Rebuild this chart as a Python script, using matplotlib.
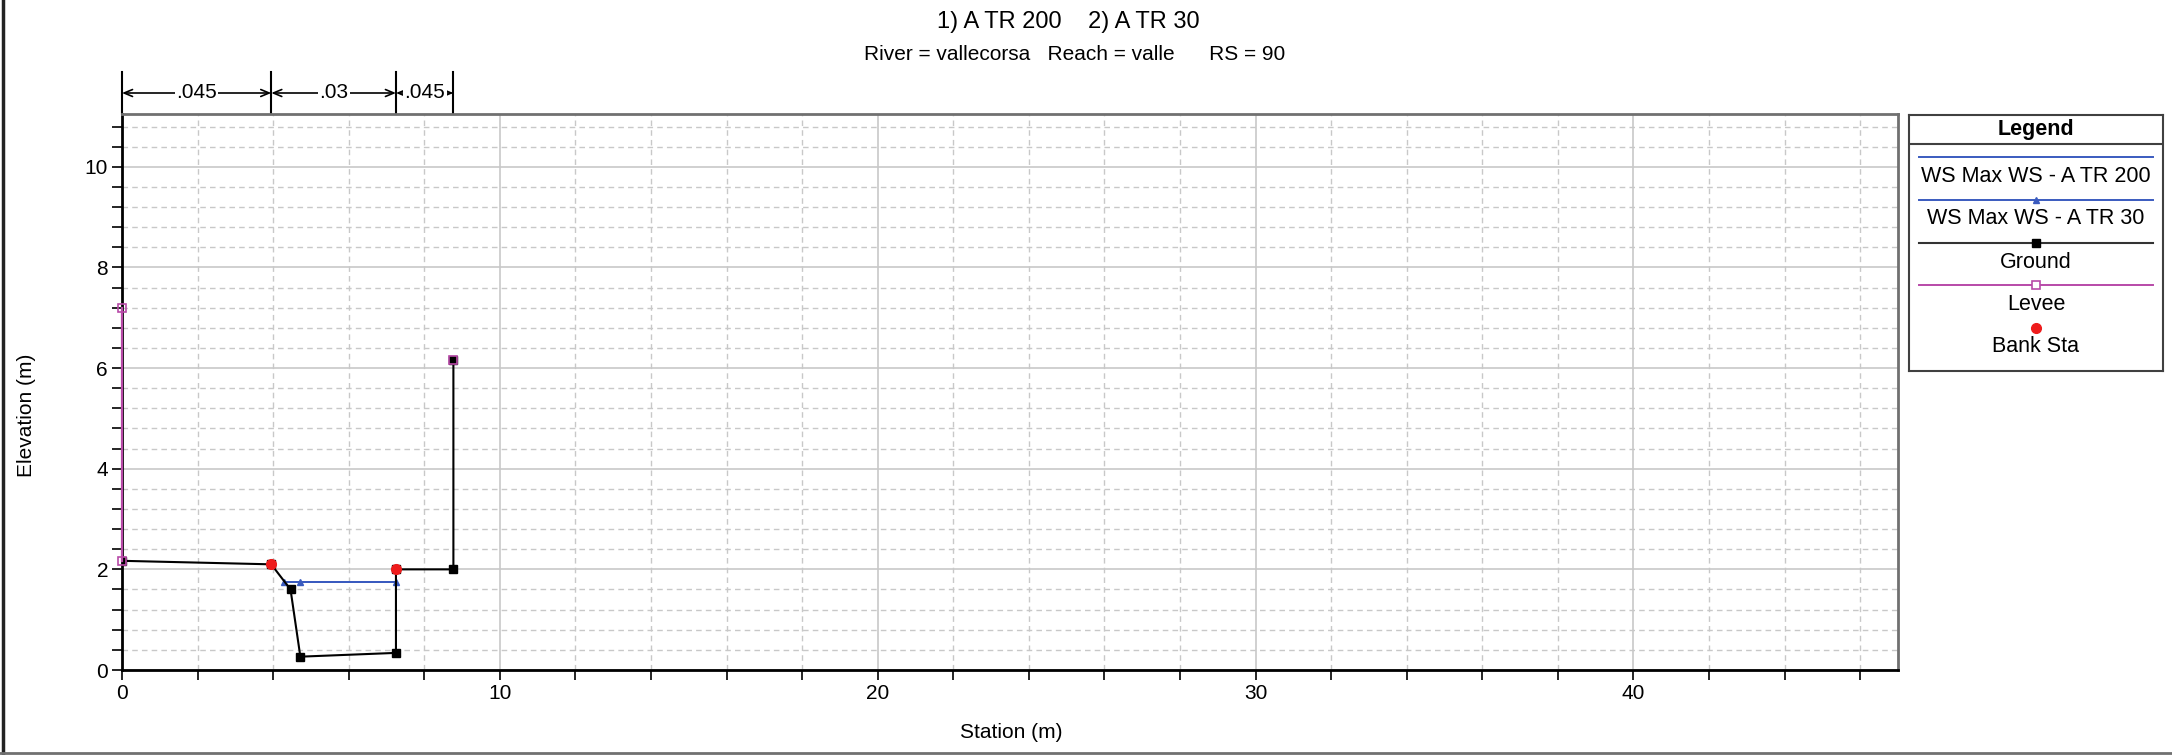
import matplotlib
matplotlib.use("Agg")
import matplotlib.pyplot as plt
from matplotlib.lines import Line2D
from matplotlib.ticker import MultipleLocator
import matplotlib.transforms as mtransforms

plt.rcParams['font.family'] = ['Liberation Sans', 'DejaVu Sans']

# ---- data ----
ground_sta = [0.0, 3.95, 4.46, 4.72, 7.25, 7.25, 8.77, 8.77]
ground_elev = [2.17, 2.10, 1.60, 0.265, 0.34, 2.00, 2.00, 6.16]
ws200_sta = [4.30, 4.72, 7.25]
ws200_elev = [1.755, 1.755, 1.755]
ws30_sta = [4.30, 4.72, 7.25]
ws30_elev = [1.755, 1.755, 1.755]
levee_left_sta = [0.0, 0.0]
levee_left_elev = [2.17, 7.19]
levee_right_sta = [8.77]
levee_right_elev = [6.16]
bank_sta = [3.95, 7.25]
bank_elev = [2.10, 2.00]
n_bounds = [0.0, 3.95, 7.25, 8.77]
n_values = [".045", ".03", ".045"]
title1 = "1) A TR 200    2) A TR 30"
title2 = "River = vallecorsa   Reach = valle      RS = 90"
legend_labels = ["WS Max WS - A TR 200", "WS Max WS - A TR 30", "Ground", "Levee", "Bank Sta"]

W, H = 2172, 755
fig = plt.figure(figsize=(W / 100, H / 100), dpi=100)

def px_rect(l, t, r, b):
    return [l / W, (H - b) / H, (r - l) / W, (b - t) / H]

ax = fig.add_axes(px_rect(122, 114, 1898, 670))
ax.set_xlim(0, 47)
ax.set_ylim(0, 11.05)

ws_color = '#3a5bbf'
lev_color = '#b84aa8'

ax.xaxis.set_major_locator(MultipleLocator(10))
ax.xaxis.set_minor_locator(MultipleLocator(2))
ax.yaxis.set_major_locator(MultipleLocator(2))
ax.yaxis.set_minor_locator(MultipleLocator(0.4))
ax.grid(which='major', color='#c8c8c8', lw=1.2, ls='-')
ax.grid(which='minor', color='#c8c8c8', lw=1.0, ls=(0, (4, 3)))
ax.set_axisbelow(True)
ax.tick_params(which='both', direction='out', length=7, width=1.2, labelsize=15, pad=3, colors='black')
for s in ['left', 'bottom']:
    ax.spines[s].set_linewidth(2)
    ax.spines[s].set_color('black')
for s in ['top', 'right']:
    ax.spines[s].set_linewidth(2)
    ax.spines[s].set_color('#707070')

ax.plot(ws200_sta, ws200_elev, color=ws_color, lw=1.4, zorder=3)
ax.plot(ws30_sta, ws30_elev, color=ws_color, lw=1.4, marker='^', ms=4, zorder=3)
ax.plot(ground_sta, ground_elev, color='black', lw=1.5, marker='s', ms=6, zorder=4)
ax.plot(levee_left_sta, levee_left_elev, color=lev_color, lw=1.6, marker='s', ms=6,
        mfc='none', mec=lev_color, mew=1.2, zorder=5, clip_on=False)
ax.plot(levee_right_sta, levee_right_elev, ls='none', marker='s', ms=6,
        mfc='none', mec=lev_color, mew=1.2, zorder=5)
ax.plot(bank_sta, bank_elev, ls='none', marker='o', ms=7, color='#ee1c1c', zorder=6)

ax.set_xlabel("Station (m)", fontsize=15)
ax.set_ylabel("Elevation (m)", fontsize=15)
ax.xaxis.set_label_coords((1011 - 122) / 1776, (670 - 723) / 556)
ax.yaxis.set_label_coords((36 - 122) / 1776, (670 - 415) / 556)

# Manning's n annotations above plot
trans = mtransforms.blended_transform_factory(ax.transData, ax.transAxes)
yrow = 1.0 + 21 / 556
ytop = 1.0 + 42 / 556
for b in n_bounds:
    ax.add_line(Line2D([b, b], [1.0, ytop], transform=trans, color='black', lw=1.5, clip_on=False))
for i, v in enumerate(n_values):
    a, b = n_bounds[i], n_bounds[i + 1]
    ax.annotate('', xy=(a, yrow), xytext=(b, yrow), xycoords=trans, textcoords=trans,
                arrowprops=dict(arrowstyle='<->,head_length=0.6,head_width=0.25', color='black', lw=1.2,
                                shrinkA=0, shrinkB=0), annotation_clip=False)
    ax.text((a + b) / 2, yrow, v, transform=trans, ha='center', va='center', fontsize=15,
            bbox=dict(facecolor='white', edgecolor='none', pad=1.0), clip_on=False, zorder=10)

# Titles
fig.text(1068 / W, 1 - 22 / H, title1, ha='center', va='center', fontsize=17)
fig.text(1075 / W, 1 - 55 / H, title2, ha='center', va='center', fontsize=15)

# Legend box
lax = fig.add_axes(px_rect(1909, 115, 2163, 371))
lax.set_xlim(0, 254)
lax.set_ylim(256, 0)
lax.set_xticks([])
lax.set_yticks([])
for s in lax.spines.values():
    s.set_color('#404040')
    s.set_linewidth(1.5)
lax.axhline(29, color='#404040', lw=1.5)
lax.text(127, 14, "Legend", ha='center', va='center', fontsize=15.5, fontweight='bold')
lx = [10, 244]
lax.plot(lx, [42.3, 42.3], color=ws_color, lw=1.4)
lax.text(127, 61, legend_labels[0], ha='center', va='center', fontsize=15.5)
lax.plot(lx, [85.3, 85.3], color=ws_color, lw=1.4)
lax.plot([127], [84.5], marker='^', ms=4, color=ws_color)
lax.text(127, 104, legend_labels[1], ha='center', va='center', fontsize=15.5)
lax.plot(lx, [127.7, 127.7], color='#333333', lw=1.5)
lax.plot([127], [127.7], marker='s', ms=6, color='black')
lax.text(127, 147, legend_labels[2], ha='center', va='center', fontsize=15.5)
lax.plot(lx, [170.3, 170.3], color=lev_color, lw=1.4)
lax.plot([127], [170.3], marker='s', ms=6, mfc='white', mec=lev_color, mew=1.2)
lax.text(127, 189.5, legend_labels[3], ha='center', va='center', fontsize=15.5)
lax.plot([127], [212.7], marker='o', ms=7, color='#ee1c1c')
lax.text(127, 231, legend_labels[4], ha='center', va='center', fontsize=15.5)

# figure border (left and bottom)
fig.add_artist(Line2D([3 / W, 3 / W], [0, 1], transform=fig.transFigure, color='#222222', lw=2.5))
fig.add_artist(Line2D([0, 1], [2 / H, 2 / H], transform=fig.transFigure, color='#707070', lw=2))

fig.savefig("out.png", dpi=100)
